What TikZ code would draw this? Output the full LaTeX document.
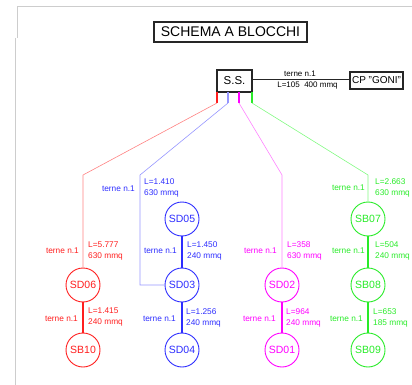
\documentclass[tikz,border=0pt]{standalone}
\usepackage{fontspec}
\setmainfont{Liberation Sans}
\definecolor{cRed}{RGB}{255,30,30}
\definecolor{cBlue}{RGB}{45,45,255}
\definecolor{cMag}{RGB}{255,0,255}
\definecolor{cGreen}{RGB}{40,235,40}
\definecolor{cRedL}{RGB}{255,130,130}
\definecolor{cBlueL}{RGB}{150,150,255}
\definecolor{cMagL}{RGB}{255,130,255}
\definecolor{cGreenL}{RGB}{130,250,130}
\definecolor{frameGray}{RGB}{205,205,205}
\begin{document}
\begin{tikzpicture}[x=1pt,y=-1pt,
  box/.style={draw=black!85,line width=1.1pt,inner sep=0pt},
  dev/.style={circle,draw=#1,text=#1,line width=0.9pt,minimum size=34pt,inner sep=0pt,font=\fontsize{10.5}{12}\selectfont},
  feed/.style={draw=#1,line width=0.6pt},
  trunk/.style={draw=#1,line width=1.3pt},
  lt/.style={anchor=east,inner sep=0pt,text=#1,font=\fontsize{8.3}{11}\selectfont},
  lv/.style={anchor=west,inner sep=0pt,text=#1,align=left,font=\fontsize{8.3}{11}\selectfont},
]
\useasboundingbox (0,0) rectangle (412,385);
% light frame
\draw[frameGray,line width=0.9pt] (412,6) -- (17,6) -- (17,38);
\draw[frameGray,line width=0.9pt] (15.5,38) -- (15.5,385);

% title
\node[box,minimum width=153pt,minimum height=20pt,font=\fontsize{14}{16}\selectfont] (title) at (230.5,32) {SCHEMA A BLOCCHI};

% S.S. and CP
\node[box,minimum width=35pt,minimum height=22pt,font=\fontsize{11.5}{13}\selectfont] (ss) at (234.5,81) {S.S.};
\node[box,minimum width=53pt,minimum height=17pt,font=\fontsize{10}{12}\selectfont] (cp) at (376.5,80.5) {CP "GONI"};
\draw[black!85,line width=1pt] (ss.east |- 0,80) coordinate (ssE) -- (cp.west |- 0,80) coordinate (cpW);
\node[lt=black,anchor=south,font=\fontsize{8}{10}\selectfont] (lcp1) at (300,77) {terne n.1};
\node[lt=black,anchor=north,font=\fontsize{8}{10}\selectfont] (lcp2) at (307.5,82) {L=105\ \ 400 mmq};

% stubs from S.S.
\coordinate (sR) at (217,92);  \coordinate (sR2) at (217,103);
\coordinate (sB) at (228,92);  \coordinate (sB2) at (228,103);
\coordinate (sM) at (239,92);  \coordinate (sM2) at (239,103);
\coordinate (sG) at (252,92);  \coordinate (sG2) at (252,103);
\draw[trunk=cRed,line width=1.1pt] (sR) -- (sR2);
\draw[trunk=cBlueL,line width=1.1pt] (sB) -- (sB2);
\draw[trunk=cMag,line width=1.1pt] (sM) -- (sM2);
\draw[trunk=cGreen,line width=1.1pt] (sG) -- (sG2);

% corners
\coordinate (kR) at (83,175);
\coordinate (kB) at (140,175);
\coordinate (kM) at (282,175);
\coordinate (kG) at (368,175);

% devices
\node[dev=cRed] (sd06) at (83,285) {SD06};
\node[dev=cRed] (sb10) at (83,350) {SB10};
\node[dev=cBlue] (sd05) at (182,219) {SD05};
\node[dev=cBlue] (sd03) at (182,285) {SD03};
\node[dev=cBlue] (sd04) at (182,350) {SD04};
\node[dev=cMag] (sd02) at (282,285) {SD02};
\node[dev=cMag] (sd01) at (282,350) {SD01};
\node[dev=cGreen] (sb07) at (368,219) {SB07};
\node[dev=cGreen] (sb08) at (368,285) {SB08};
\node[dev=cGreen] (sb09) at (368,350) {SB09};

% red branch
\draw[feed=cRedL] (sR2) -- (kR) -- (sd06.north);
\draw[trunk=cRed] (sd06) -- (sb10);
% blue branch
\draw[feed=cBlueL] (sB2) -- (kB) -- (kB |- sd03.west) -- (sd03.west);
\draw[trunk=cBlue] (sd05) -- (sd03);
\draw[trunk=cBlue] (sd03) -- (sd04);
% magenta branch
\draw[feed=cMagL] (sM2) -- (kM) -- (sd02.north);
\draw[trunk=cMag] (sd02) -- (sd01);
% green branch
\draw[feed=cGreenL] (sG2) -- (kG) -- (sb07.north);
\draw[trunk=cGreen] (sb07) -- (sb08);
\draw[trunk=cGreen] (sb08) -- (sb09);

% labels red
\node[lt=cRed] (tR1) at (79,251) {terne n.1};
\node[lv=cRed] (vR1) at (88,251.5) {L=5.777\\630 mmq};
\node[lt=cRed] (tR2) at (78,319) {terne n.1};
\node[lv=cRed] (vR2) at (88,317.5) {L=1.415\\240 mmq};
% labels blue
\node[lt=cBlue] (tB1) at (135,189) {terne n.1};
\node[lv=cBlue] (vB1) at (144,187.5) {L=1.410\\630 mmq};
\node[lt=cBlue] (tB2) at (177,251) {terne n.1};
\node[lv=cBlue] (vB2) at (187,251) {L=1.450\\240 mmq};
\node[lt=cBlue] (tB3) at (176,319) {terne n.1};
\node[lv=cBlue] (vB3) at (186,317.5) {L=1.256\\240 mmq};
% labels magenta
\node[lt=cMag] (tM1) at (277,251) {terne n.1};
\node[lv=cMag] (vM1) at (287,251) {L=358\\630 mmq};
\node[lt=cMag] (tM2) at (276,319) {terne n.1};
\node[lv=cMag] (vM2) at (286,317.5) {L=964\\240 mmq};
% labels green
\node[lt=cGreen] (tG1) at (365,188) {terne n.1};
\node[lv=cGreen] (vG1) at (375,187.5) {L=2.663\\630 mmq};
\node[lt=cGreen] (tG2) at (365,251) {terne n.1};
\node[lv=cGreen] (vG2) at (375,251) {L=504\\240 mmq};
\node[lt=cGreen] (tG3) at (363,319) {terne n.1};
\node[lv=cGreen] (vG3) at (373,317.5) {L=653\\185 mmq};
\end{tikzpicture}
\end{document}
